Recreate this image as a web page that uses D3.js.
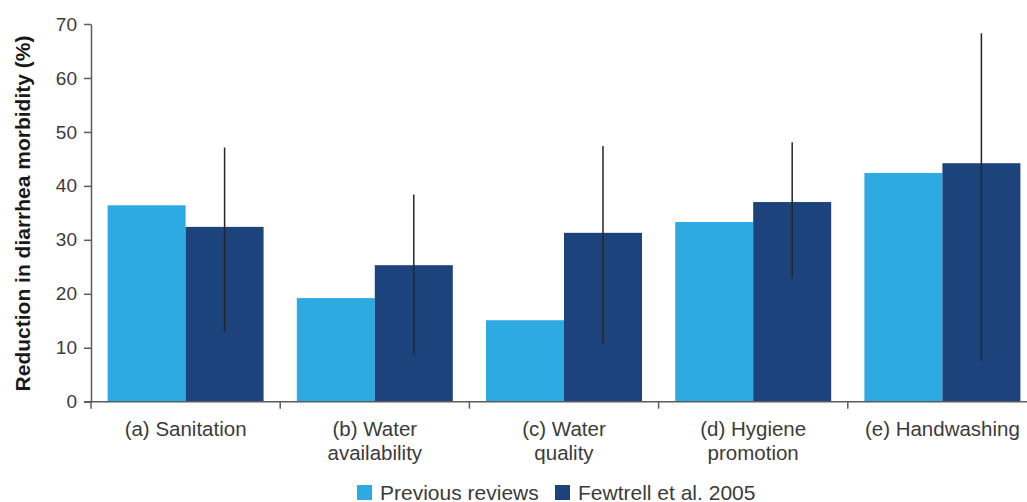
<!DOCTYPE html>
<html>
<head>
<meta charset="utf-8">
<script src="https://cdn.jsdelivr.net/npm/d3@7/dist/d3.min.js"></script>
<style>
  html, body { margin: 0; padding: 0; background: #fff; }
  svg { display: block; font-family: "Liberation Sans", Arial, Helvetica, sans-serif; }
</style>
</head>
<body>
<svg id="chart" width="1027" height="502"></svg>
<script>
// Reduction in diarrhea morbidity by intervention type
const categories = [
  ["(a) Sanitation"],
  ["(b) Water", "availability"],
  ["(c) Water", "quality"],
  ["(d) Hygiene", "promotion"],
  ["(e) Handwashing"]
];
const seriesNames = ["Previous reviews", "Fewtrell et al. 2005"];
const previousReviews = [36.4, 19.2, 15.1, 33.3, 42.4];
const fewtrell2005 = [32.4, 25.3, 31.3, 37.0, 44.2];
const fewtrellLow = [13.0, 8.8, 10.9, 23.0, 7.6];
const fewtrellHigh = [47.1, 38.4, 47.4, 48.1, 68.3];
const yTicks = [0, 10, 20, 30, 40, 50, 60, 70];
const yTitle = "Reduction in diarrhea morbidity (%)";

const colors = { "Previous reviews": "#2eaae2", "Fewtrell et al. 2005": "#1c437b" };
const axisColor = "#5c5c5c";
const textColor = "#3b3b3b";

const svg = d3.select("#chart");
const plotLeft = 91, plotBottom = 401.7, plotTop = 24;
const bandStep = 189.2;

const keys = categories.map(c => c.join(" "));
const x0 = d3.scaleBand().domain(keys).range([plotLeft, plotLeft + bandStep * keys.length]).padding(0);
const x1 = d3.scaleBand().domain(seriesNames).range([0, x0.bandwidth()]).paddingInner(0).paddingOuter(0.213);
const y = d3.scaleLinear().domain([0, 70]).range([plotBottom, plotTop]);

const rows = keys.map((k, i) => ({
  key: k,
  values: [
    { name: seriesNames[0], value: previousReviews[i] },
    { name: seriesNames[1], value: fewtrell2005[i] }
  ],
  lo: fewtrellLow[i],
  hi: fewtrellHigh[i]
}));

// bars
const groups = svg.append("g").selectAll("g").data(rows).join("g")
  .attr("transform", d => `translate(${x0(d.key)},0)`);
groups.selectAll("rect").data(d => d.values).join("rect")
  .attr("x", d => x1(d.name))
  .attr("width", x1.bandwidth())
  .attr("y", d => y(d.value))
  .attr("height", d => y(0) - y(d.value))
  .attr("fill", d => colors[d.name]);

// error bars on the Fewtrell series
groups.append("line")
  .attr("x1", x1(seriesNames[1]) + x1.bandwidth() / 2)
  .attr("x2", x1(seriesNames[1]) + x1.bandwidth() / 2)
  .attr("y1", d => y(d.lo))
  .attr("y2", d => y(d.hi))
  .attr("stroke", "#262626")
  .attr("stroke-width", 1.5);

// y axis
const yAxis = svg.append("g")
  .attr("transform", `translate(${plotLeft},0)`)
  .call(d3.axisLeft(y).tickValues(yTicks).tickSize(7).tickPadding(7).tickSizeOuter(0));
yAxis.select(".domain").attr("stroke", axisColor).attr("stroke-width", 1.5);
yAxis.selectAll(".tick line").attr("stroke", axisColor).attr("stroke-width", 1.5);
yAxis.selectAll(".tick text")
  .attr("fill", textColor)
  .style("font-size", "19px")
  .style("font-family", "'Liberation Sans', Arial, sans-serif");

// x axis: line plus boundary ticks between categories
const xAxis = svg.append("g");
xAxis.append("line")
  .attr("x1", plotLeft - 7).attr("x2", 1027)
  .attr("y1", plotBottom).attr("y2", plotBottom)
  .attr("stroke", axisColor).attr("stroke-width", 1.5);
xAxis.selectAll("line.bound").data(keys).join("line")
  .attr("class", "bound")
  .attr("x1", d => x0(d)).attr("x2", d => x0(d))
  .attr("y1", plotBottom).attr("y2", plotBottom + 7)
  .attr("stroke", axisColor).attr("stroke-width", 1.5);

// category labels
const labels = svg.append("g").selectAll("text").data(categories).join("text")
  .attr("x", (d, i) => x0(keys[i]) + x0.bandwidth() / 2)
  .attr("y", 436)
  .attr("text-anchor", "middle")
  .attr("fill", textColor)
  .style("font-size", "20.5px");
labels.selectAll("tspan").data(d => d).join("tspan")
  .attr("x", function () { return this.parentNode.getAttribute("x"); })
  .attr("dy", (d, i) => i === 0 ? 0 : 24)
  .text(d => d);

// y axis title
svg.append("text")
  .attr("transform", "translate(30,213.5) rotate(-90)")
  .attr("text-anchor", "middle")
  .attr("fill", "#1a1a1a")
  .style("font-size", "21px")
  .style("font-weight", "bold")
  .text(yTitle);

// legend
const legendX = [357, 555];
const legend = svg.append("g").selectAll("g").data(seriesNames).join("g")
  .attr("transform", (d, i) => `translate(${legendX[i]},485)`);
legend.append("rect")
  .attr("width", 15).attr("height", 15)
  .attr("fill", d => colors[d]);
legend.append("text")
  .attr("x", 23).attr("y", 14.5)
  .attr("fill", textColor)
  .style("font-size", "21px")
  .text(d => d);
</script>
</body>
</html>
